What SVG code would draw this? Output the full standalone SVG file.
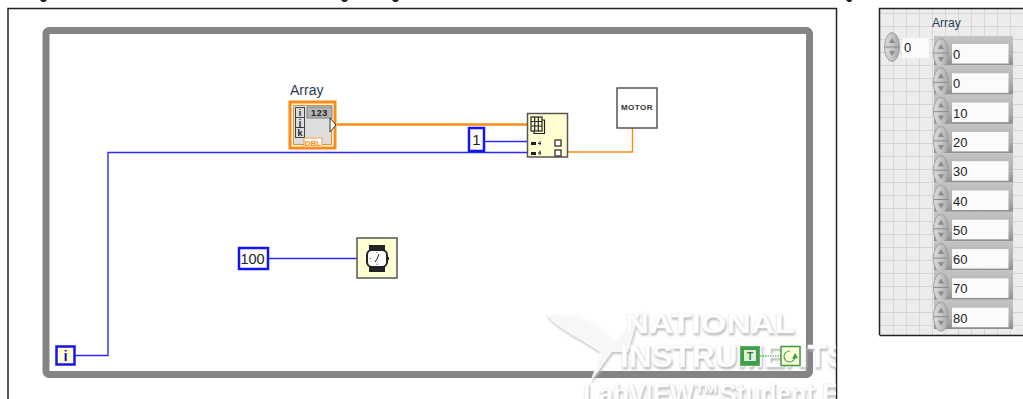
<svg xmlns="http://www.w3.org/2000/svg" width="1023" height="399" viewBox="0 0 1023 399">
<defs>
<filter id="soft" x="-5%" y="-10%" width="110%" height="125%"><feDropShadow dx="1" dy="2" stdDeviation="1.200" flood-color="#b8b8b8"/></filter>
<clipPath id="bd"><rect x="0" y="0" width="836" height="399"/></clipPath>
<linearGradient id="sp" x1="0" y1="0" x2="1" y2="0"><stop offset="0" stop-color="#dcdcdc"/><stop offset=".5" stop-color="#c6c6c6"/><stop offset="1" stop-color="#a6a6a6"/></linearGradient>
<linearGradient id="rim" x1="0" y1="0" x2="0" y2="1"><stop offset="0" stop-color="#c4c4c4"/><stop offset=".6" stop-color="#b0b0b0"/><stop offset="1" stop-color="#8e8e8e"/></linearGradient>
<symbol id="spinner" width="16" height="30" viewBox="0 0 16 30" overflow="visible"><ellipse cx="8" cy="15" rx="7.500" ry="14.500" fill="url(#sp)" stroke="#a0a0a0"/><path d="M1 15H15" stroke="#8a8a8a"/><path d="M5 11L8 6L11 11ZM5 19L8 24L11 19Z" fill="#8c8c8c"/></symbol>
<g id="element"><rect x="934" y="36" width="79" height="29.300" fill="url(#rim)"/><use href="#spinner" x="933" y="38"/><rect x="952" y="44" width="56.500" height="19.500" fill="#fbfbfb"/></g>
</defs>
<style>
text{font-family:"Liberation Sans",Arial,sans-serif;fill:#222}
.w{fill:none;stroke-linejoin:miter}
.blue{stroke:#2a2aff;stroke-width:1.400}
.or{stroke:#ff8a14}
.fn{fill:#ffffd2;stroke:#555;stroke-width:1.500}
.num{font-size:13px}
.grid{stroke:#d6d6d6;stroke-width:1;fill:none}
.wm{font-weight:bold;fill:#fff;stroke:#f0f0f0;stroke-width:.6}
</style>
<rect width="1023" height="399" fill="#fff"/>
<path d="M40 0H47L45 2H42ZM341 0H348L346 2H343ZM392 0H399L397 2H394ZM846 0H852L851 2H848Z" fill="#222"/>
<path d="M8 399V8.500H836.500V399" fill="none" stroke="#222" stroke-width="1.500"/>
<g id="while-loop"><rect x="46" y="30.500" width="763.500" height="344" rx="3" fill="none" stroke="#848484" stroke-width="7"/></g>
<g id="watermark" clip-path="url(#bd)"><g filter="url(#soft)">
<path d="M546 314C570 308 592 318 612 340L640 311L628 352L612 352L590 383L600 352C580 338 558 330 546 314Z" fill="#fff" fill-opacity=".85"/>
<text class="wm" x="625" y="333" font-size="28" textLength="170" lengthAdjust="spacingAndGlyphs">NATIONAL</text>
<text class="wm" x="620" y="367" font-size="31" textLength="228" lengthAdjust="spacingAndGlyphs">INSTRUMENTS</text>
<text class="wm" x="583" y="403" font-size="28" textLength="256" lengthAdjust="spacingAndGlyphs">LabVIEW™Student E</text>
</g></g>
<g id="connectors">
<path class="w or" stroke-width="2.500" d="M337 124.500H527"/>
<path class="w blue" d="M75 355.500H108V152.500H527"/>
<path class="w blue" d="M484 141.500H527"/>
<path class="w or" stroke-width="1.400" d="M568 152H632.500V128"/>
<path class="w blue" d="M268 258.500H357"/>
<path d="M760 356H781" fill="none" stroke="#2a9a3a" stroke-dasharray="1.500 1"/>
</g>
<g id="array-constant">
<text x="290" y="95" font-size="14" style="fill:#2a3a55">Array</text>
<rect x="290" y="102" width="45" height="46" fill="#fff" stroke="#ff8a14" stroke-width="3"/>
<rect x="293.500" y="105.500" width="38" height="39" fill="#dedede" stroke="#ff8a14"/>
<rect x="295" y="107" width="10" height="31" fill="#444"/>
<rect x="296" y="108" width="8" height="9" fill="#ddd"/><rect x="296" y="118" width="8" height="9" fill="#ddd"/><rect x="296" y="128" width="8" height="9" fill="#ddd"/>
<text x="300" y="116" font-size="9" font-weight="bold" text-anchor="middle">i</text>
<text x="300" y="126" font-size="9" font-weight="bold" text-anchor="middle">j</text>
<text x="300" y="136" font-size="9" font-weight="bold" text-anchor="middle">k</text>
<rect x="307" y="107" width="25" height="11" fill="#b4b4b4" stroke="#808080"/>
<text x="319.500" y="116" font-size="9" font-weight="bold" text-anchor="middle" letter-spacing=".6">123</text>
<path d="M330 118L336 125L330 132Z" fill="#fff" stroke="#333"/>
<rect x="304" y="138" width="18" height="9" fill="#fff" stroke="#ffa040"/>
<text x="313" y="146" font-size="8" font-weight="bold" text-anchor="middle" style="fill:#ff8a14">DBL</text>
</g>
<g id="const-1"><rect x="469" y="128" width="15" height="23" fill="#fff" stroke="#1414f0" stroke-width="2.500"/><text x="476.500" y="145" font-size="15" text-anchor="middle">1</text></g>
<g id="index-array"><rect class="fn" x="527.500" y="113.500" width="40" height="43.500"/>
<g fill="none" stroke="#222" stroke-width="1.200"><rect x="531" y="117" width="11" height="14"/><path d="M534.700 117V131M538.300 117V131M531 121.500H542M531 126H542M542 120H544.500V133.500H534V131"/></g>
<rect x="531" y="142" width="5" height="3" fill="#222"/><path d="M538 143.500H541M540 141V145" stroke="#222"/><rect x="555" y="140" width="6" height="6" fill="#fff" stroke="#333" stroke-width="1.300"/>
<rect x="531" y="152" width="5" height="3" fill="#222"/><path d="M538 153H541M540 150.500V155" stroke="#222"/><rect x="555" y="150" width="6" height="6" fill="#fff" stroke="#333" stroke-width="1.300"/></g>
<g id="motor"><rect x="617" y="88" width="40" height="40" fill="#fff" stroke="#555" stroke-width="1.500"/><text x="637" y="110" font-size="8" font-weight="bold" text-anchor="middle" letter-spacing=".5" style="fill:#333">MOTOR</text></g>
<g id="const-100"><rect x="239" y="248" width="29" height="21" fill="#fff" stroke="#1414f0" stroke-width="2.500"/><text x="252.500" y="264" font-size="14.500" text-anchor="middle">100</text></g>
<g id="wait-ms"><rect class="fn" x="357" y="238" width="40" height="40"/>
<rect x="369" y="245" width="16" height="7" fill="#222"/><rect x="369" y="265" width="16" height="7" fill="#222"/><rect x="367" y="250" width="20" height="17" rx="5" fill="#fff" stroke="#222" stroke-width="2"/><path d="M377 259L379 254M377 259L375 262" stroke="#222"/><path d="M377 252V253M377 264V265M370 258.500H371" stroke="#555"/><rect x="387" y="257" width="2" height="3" fill="#222"/></g>
<g id="iteration"><rect x="56.500" y="346.500" width="18" height="18" fill="#ffffd2" stroke="#1414f0" stroke-width="2.500"/><text x="65.500" y="361" font-size="15" font-weight="bold" text-anchor="middle" style="fill:#1414c8">i</text></g>
<g id="stop-true"><rect x="740.500" y="346.500" width="19" height="19" fill="#3f9f4a" stroke="#5cb060"/><rect x="744" y="350" width="12" height="11" fill="#dff0dc"/><text x="750" y="360" font-size="10" font-weight="bold" text-anchor="middle" style="fill:#2a7a35">T</text></g>
<g id="loop-condition"><rect x="781" y="346.500" width="19" height="19" fill="#ffffd8" stroke="#3a9a45" stroke-width="1.500"/><path d="M795 356A5.500 5.500 0 1 1 790 351" fill="none" stroke="#4aa455" stroke-width="1.200"/><path d="M792 359L798 358L795 353Z" fill="#3a9a45"/></g>
<g id="front-panel">
<rect x="880" y="9" width="143" height="326" fill="#ececec"/>
<path class="grid" d="M880 13.500H1023M880 26.500H1023M880 39.500H1023M880 52.500H1023M880 65.500H1023M880 78.500H1023M880 91.500H1023M880 104.500H1023M880 117.500H1023M880 130.500H1023M880 143.500H1023M880 156.500H1023M880 169.500H1023M880 182.500H1023M880 195.500H1023M880 208.500H1023M880 221.500H1023M880 234.500H1023M880 247.500H1023M880 260.500H1023M880 273.500H1023M880 286.500H1023M880 299.500H1023M880 312.500H1023M880 325.500H1023M893.500 9V335M906.500 9V335M919.500 9V335M932.500 9V335M945.500 9V335M958.500 9V335M971.500 9V335M984.500 9V335M997.500 9V335M1010.500 9V335"/>
<path d="M879.500 335V8.500H1023M879.500 335.500H1023" fill="none" stroke="#222" stroke-width="1.500"/>
<text x="932" y="27" font-size="12" style="fill:#2a3a55">Array</text>
<g id="index-control"><use href="#spinner" x="884" y="32"/><rect x="902" y="38" width="27" height="20" fill="#fbfbfb"/><text x="904" y="52" class="num">0</text></g>
<g id="elements">
<use href="#element"/><text x="953" y="59" class="num">0</text>
<use href="#element" y="29.300"/><text x="953" y="88" class="num">0</text>
<use href="#element" y="58.600"/><text x="953" y="118" class="num">10</text>
<use href="#element" y="87.900"/><text x="953" y="147" class="num">20</text>
<use href="#element" y="117.200"/><text x="953" y="176" class="num">30</text>
<use href="#element" y="146.500"/><text x="953" y="206" class="num">40</text>
<use href="#element" y="175.800"/><text x="953" y="235" class="num">50</text>
<use href="#element" y="205.100"/><text x="953" y="264" class="num">60</text>
<use href="#element" y="234.400"/><text x="953" y="293" class="num">70</text>
<use href="#element" y="263.700"/><text x="953" y="323" class="num">80</text>
</g></g>
</svg>
